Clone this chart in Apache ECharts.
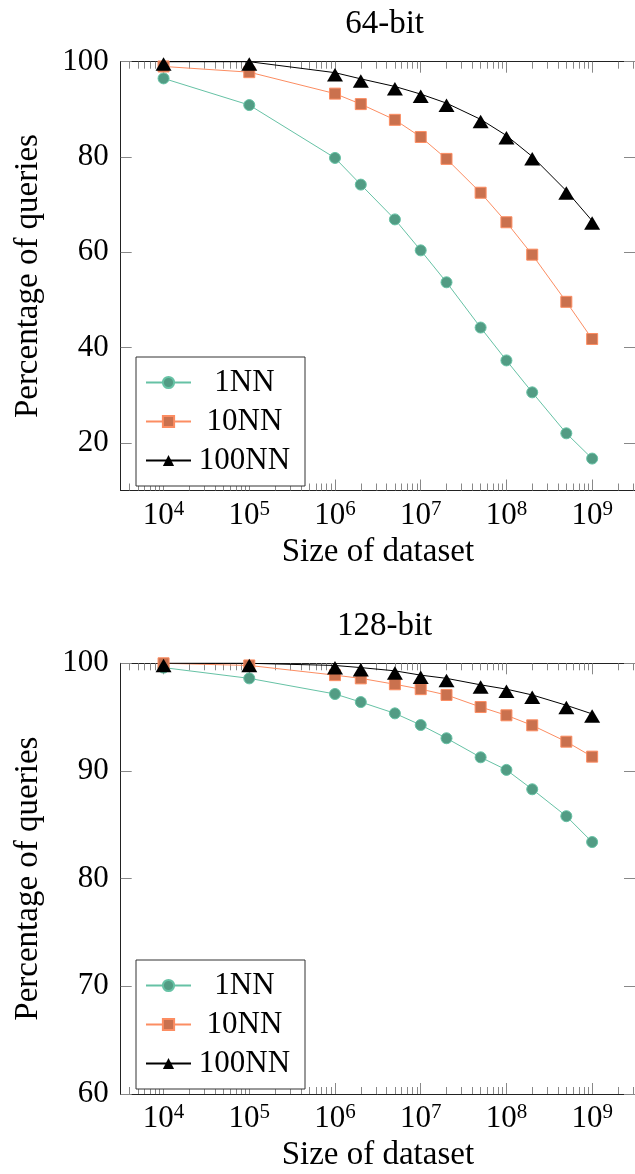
<!DOCTYPE html>
<html>
<head>
<meta charset="utf-8">
<script src="https://cdn.jsdelivr.net/npm/echarts@6/dist/echarts.min.js"></script>
<style>
html,body{margin:0;padding:0;background:#fff;}
#chart{width:635px;height:1174px;}
</style>
</head>
<body>
<div id="chart"></div>
<script>
// ---- data ----
const sizes = [1e4, 1e5, 1e6, 2e6, 5e6, 1e7, 2e7, 5e7, 1e8, 2e8, 5e8, 1e9];
const seriesNames = ['1NN', '10NN', '100NN'];
const bit64_1NN   = [96.5, 90.9, 79.8, 74.2, 66.9, 60.4, 53.7, 44.2, 37.3, 30.6, 22.0, 16.7];
const bit64_10NN  = [99.0, 97.8, 93.3, 91.1, 87.8, 84.2, 79.6, 72.5, 66.3, 59.5, 49.6, 41.8];
const bit64_100NN = [100, 100, 97.7, 96.4, 94.8, 93.2, 91.3, 87.9, 84.5, 80.1, 72.9, 66.6];
const bit128_1NN   = [99.6, 98.6, 97.15, 96.4, 95.35, 94.27, 93.04, 91.27, 90.1, 88.3, 85.8, 83.4];
const bit128_10NN  = [100, 99.8, 98.9, 98.6, 98.05, 97.6, 97.06, 95.94, 95.17, 94.24, 92.72, 91.33];
const bit128_100NN = [100, 100, 99.8, 99.6, 99.3, 98.9, 98.6, 98.0, 97.6, 97.06, 96.1, 95.3];
const xTickExponents = [4, 5, 6, 7, 8, 9];
const yTicks64  = [20, 40, 60, 80, 100];
const yTicks128 = [60, 70, 80, 90, 100];
const titles = ['64-bit', '128-bit'];
const xTitle = 'Size of dataset';
const yTitle = 'Percentage of queries';

// ---- layout / style ----
const FONT = 'Liberation Serif';
const xMin = Math.pow(10, 3.5), xMax = Math.pow(10, 9.5);
const majorX = xTickExponents.map(e => Math.pow(10, e));
const minorX = [];
for (let e = 3; e <= 9; e++) for (let k = 2; k <= 9; k++) {
  const v = k * Math.pow(10, e);
  if (v > xMin && v < xMax) minorX.push(v);
}
const grids = [
  {left: 120.7, top: 61.7, width: 517.8, height: 428.8},
  {left: 120.7, top: 663.3, width: 517.8, height: 430.7}
];
const yRanges = [[10, 100], [60, 100]];
const yTicks = [yTicks64, yTicks128];
const dataSets = [
  [bit64_1NN, bit64_10NN, bit64_100NN],
  [bit128_1NN, bit128_10NN, bit128_100NN]
];
const lineColors = ['#66c2a5', '#fc8d62', '#000000'];
const fillColors = ['#529c84', '#ca714e', '#000000'];
const symbols = ['circle', 'rect', 'triangle'];
const symbolSizes = [11, 11, [16, 13.5]];
const symbolOffsets = [[0, 0], [0, 0], [0, 2.2]];
const AX = '#222';
const TK = '#888';

const xAxes = [], yAxes = [], series = [], legends = [], titleArr = [];
grids.forEach((g, gi) => {
  const base = xAxes.length;
  xAxes.push({
    type: 'log', gridIndex: gi, min: xMin, max: xMax, position: 'bottom',
    axisLine: {show: true, lineStyle: {color: AX, width: 1}},
    axisTick: {show: true, inside: true, length: 11, customValues: majorX, lineStyle: {color: TK}},
    axisLabel: {
      show: true, customValues: majorX, margin: 8,
      formatter: v => '{b|10}{s|' + Math.round(Math.log10(v)) + '}',
      rich: {
        b: {fontFamily: FONT, fontSize: 31, lineHeight: 34, color: '#000'},
        s: {fontFamily: FONT, fontSize: 21, lineHeight: 20, verticalAlign: 'top', color: '#000'}
      }
    },
    splitLine: {show: false},
    name: xTitle, nameLocation: 'middle', nameGap: 45,
    nameTextStyle: {fontFamily: FONT, fontSize: 33, color: '#000'}
  });
  xAxes.push({
    type: 'log', gridIndex: gi, min: xMin, max: xMax, position: 'bottom',
    axisLine: {show: false},
    axisTick: {show: true, inside: true, length: 7, customValues: minorX, lineStyle: {color: TK}},
    axisLabel: {show: false}, splitLine: {show: false}
  });
  xAxes.push({
    type: 'log', gridIndex: gi, min: xMin, max: xMax, position: 'top',
    axisLine: {show: true, lineStyle: {color: AX, width: 1}},
    axisTick: {show: true, inside: true, length: 11, customValues: majorX, lineStyle: {color: TK}},
    axisLabel: {show: false}, splitLine: {show: false}
  });
  xAxes.push({
    type: 'log', gridIndex: gi, min: xMin, max: xMax, position: 'top',
    axisLine: {show: false},
    axisTick: {show: true, inside: true, length: 7, customValues: minorX, lineStyle: {color: TK}},
    axisLabel: {show: false}, splitLine: {show: false}
  });
  const ybase = yAxes.length;
  yAxes.push({
    type: 'value', gridIndex: gi, min: yRanges[gi][0], max: yRanges[gi][1], position: 'left',
    axisLine: {show: true, lineStyle: {color: AX, width: 1}},
    axisTick: {show: true, inside: true, length: 11, customValues: yTicks[gi], lineStyle: {color: TK}},
    axisLabel: {show: true, customValues: yTicks[gi], margin: 12, fontFamily: FONT, fontSize: 31, color: '#000'},
    splitLine: {show: false},
    name: yTitle, nameLocation: 'middle', nameGap: 76, nameRotate: 90,
    nameTextStyle: {fontFamily: FONT, fontSize: 33, color: '#000'}
  });
  yAxes.push({
    type: 'value', gridIndex: gi, min: yRanges[gi][0], max: yRanges[gi][1], position: 'right',
    axisLine: {show: true, lineStyle: {color: AX, width: 1}},
    axisTick: {show: true, inside: true, length: 11, customValues: yTicks[gi], lineStyle: {color: TK}},
    axisLabel: {show: false}, splitLine: {show: false}
  });
  dataSets[gi].forEach((vals, si) => {
    series.push({
      name: seriesNames[si], type: 'line', xAxisIndex: base, yAxisIndex: ybase,
      data: sizes.map((s, i) => [s, vals[i]]),
      symbol: symbols[si], symbolSize: symbolSizes[si], symbolOffset: symbolOffsets[si],
      showAllSymbol: true, clip: false, animation: false,
      lineStyle: {color: lineColors[si], width: 1},
      itemStyle: {color: fillColors[si], borderColor: lineColors[si], borderWidth: si < 2 ? 1 : 0},
      emphasis: {disabled: true}
    });
  });
  legends.push({
    data: seriesNames, orient: 'vertical',
    left: 136, top: gi === 0 ? 357 : 960,
    padding: [10, 12, 10, 9], itemGap: 8,
    itemWidth: 45, itemHeight: 14,
    borderColor: '#333', borderWidth: 1, backgroundColor: '#fff',
    selectedMode: false,
    formatter: n => '{a|' + n + '}',
    textStyle: {
      rich: {a: {fontFamily: FONT, fontSize: 31, lineHeight: 30, width: 97, align: 'center', color: '#000'}}
    }
  });
  titleArr.push({
    text: titles[gi], left: g.left + g.width / 2, textAlign: 'center',
    top: gi === 0 ? 3 : 605,
    textStyle: {fontFamily: FONT, fontSize: 33, fontWeight: 'normal', color: '#000'}
  });
});

const chart = echarts.init(document.getElementById('chart'), null, {renderer: 'canvas'});
chart.setOption({
  animation: false,
  backgroundColor: '#fff',
  title: titleArr,
  grid: grids,
  xAxis: xAxes,
  yAxis: yAxes,
  legend: legends,
  series: series
});
</script>
</body>
</html>
